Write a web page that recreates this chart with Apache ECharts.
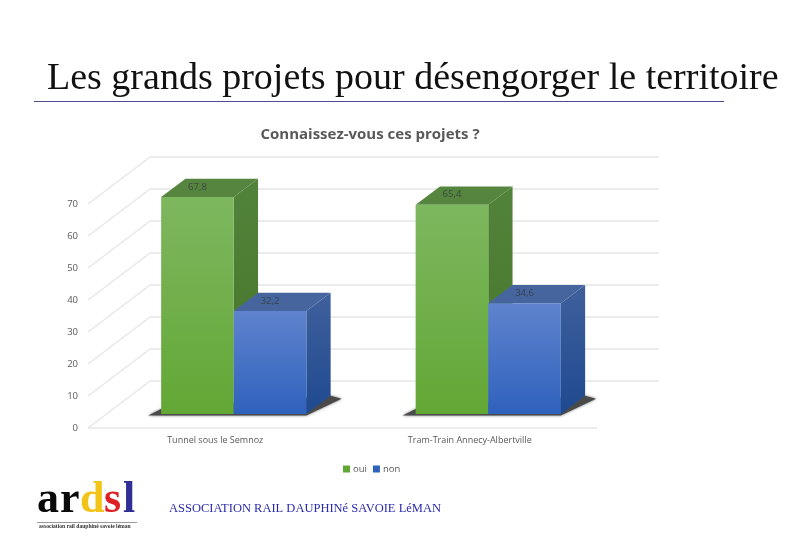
<!DOCTYPE html>
<html><head><meta charset="utf-8">
<style>html,body{margin:0;padding:0;background:#fff}#c{width:800px;height:560px}</style>
<script src="https://cdn.jsdelivr.net/npm/echarts@6/dist/echarts.min.js"></script>
</head><body><div id="c"></div>
<script>
const categories = ['Tunnel sous le Semnoz', 'Tram-Train Annecy-Albertville'];
const oui = [67.8, 65.4];
const non = [32.2, 34.6];
const gridTicks = [0, 10, 20, 30, 40, 50, 60, 70];
const mainTitle = 'Les grands projets pour désengorger le territoire';
const chartTitle = 'Connaissez-vous ces projets ?';
const footerText = 'ASSOCIATION RAIL DAUPHINé SAVOIE LéMAN';
const logoTag = 'association rail dauphiné savoie léman';

const WALL = {dx: 62, dy: -47};
const FRONT = {dx: 18.5, dy: -14};
const DEPTH = {dx: 24.3, dy: -18.3};
const BAR_W = 72.6;
const grad = (a, b) => new echarts.graphic.LinearGradient(0, 0, 0, 1, [{offset: 0, color: a}, {offset: 1, color: b}]);
const poly = (points, fill, extra) => ({type: 'polygon', shape: {points}, style: Object.assign({fill}, extra || {})});

const COLORS = {
  oui: {front: ['#7db75f', '#63a735'], side: ['#52833a', '#46752a'], top: '#568540'},
  non: {front: ['#5f83cd', '#2f62bd'], side: ['#40609c', '#1f4a90'], top: '#46659f'}
};

function barSeries(name, values, sign) {
  return {
    type: 'custom', name, z: 5, coordinateSystem: 'cartesian2d',
    data: values.map((v, i) => [i, v]),
    itemStyle: {color: COLORS[name].front[1]},
    renderItem(params, api) {
      const i = api.value(0), v = api.value(1);
      const top = api.coord([i, v]), base = api.coord([i, 0]);
      const c = top[0] + FRONT.dx;
      const xL = sign < 0 ? c - BAR_W : c, xR = sign < 0 ? c : c + BAR_W;
      const yT = top[1] + FRONT.dy, yB = base[1] + FRONT.dy;
      const k = COLORS[name];
      const d = DEPTH;
      return {type: 'group', children: [
        poly([[xR, yT], [xR + d.dx, yT + d.dy], [xR + d.dx, yB + d.dy], [xR, yB]], grad(k.side[0], k.side[1])),
        poly([[xL, yT], [xR, yT], [xR + d.dx, yT + d.dy], [xL + d.dx, yT + d.dy]], k.top),
        {type: 'rect', shape: {x: xL, y: yT, width: xR - xL, height: yB - yT}, style: {fill: grad(k.front[0], k.front[1])}},
        {type: 'text', style: {text: String(v).replace('.', ','), x: (xL + xR) / 2, y: yT - 10, align: 'center', verticalAlign: 'middle',
          font: '9.5px "Open Sans"', fill: 'rgba(50,60,60,0.85)'}}
      ]};
    }
  };
}

const wallSeries = {
  type: 'custom', name: 'walls', silent: true, z: 1,
  data: gridTicks.map(t => [0, t]),
  renderItem(params, api) {
    const t = api.value(1);
    const p = api.coord([0, t]);
    const band = api.size([1, 0])[0];
    const x0 = p[0] - band / 2, x1 = x0 + 2 * band, y = p[1];
    const ln = (a, b, c, d) => ({type: 'line', shape: {x1: a, y1: b, x2: c, y2: d}, style: {stroke: '#e6e6e6', lineWidth: 1.3}});
    const kids = [
      ln(x0 + WALL.dx, y + WALL.dy, x1 + WALL.dx, y + WALL.dy),
      ln(x0, y, x0 + WALL.dx, y + WALL.dy)
    ];
    if (t === 0) kids.push(ln(x0, y, x1, y));
    return {type: 'group', children: kids};
  }
};

const shadowSeries = {
  type: 'custom', name: 'shadow', silent: true, z: 3,
  data: categories.map((c, i) => [i, 0]),
  renderItem(params, api) {
    const p = api.coord([api.value(0), 0]);
    const c = p[0] + FRONT.dx, y = p[1] + FRONT.dy;
    const xL = c - BAR_W, xR = c + BAR_W;
    return poly([[xL - 13, y + 1.5], [xR, y + 1.5], [xR + DEPTH.dx + 11, y + DEPTH.dy + 3], [xR + DEPTH.dx, y + DEPTH.dy], [xL, y - 5]],
      '#4a4a4a', {shadowBlur: 3, shadowColor: 'rgba(60,60,60,0.7)'});
  }
};

const logoLetters = [
  {t: 'a', x: 37, c: '#0a0a0a'}, {t: 'r', x: 60, c: '#0a0a0a'},
  {t: 'd', x: 80, c: '#f2c417'}, {t: 's', x: 104, c: '#dd1f26'}, {t: 'l', x: 123, c: '#2f2f95'}
];

const chart = echarts.init(document.getElementById('c'), null, {renderer: 'canvas'});
chart.setOption({
  animation: false,
  backgroundColor: '#ffffff',
  title: [
    {text: mainTitle, left: 42, top: 55, textStyle: {fontFamily: '"Liberation Serif"', fontWeight: 'normal', fontSize: 38, color: '#111111'}},
    {text: chartTitle, left: 365, top: 122, textAlign: 'center', textStyle: {fontFamily: '"Open Sans"', fontWeight: 'bold', fontSize: 15, color: '#595959'}}
  ],
  legend: {
    data: ['oui', 'non'], left: 338, top: 459, itemWidth: 7, itemHeight: 7, itemGap: 6, icon: 'rect',
    textStyle: {fontFamily: '"Open Sans"', fontSize: 9.5, color: '#595959', padding: [0, 0, 0, -2]}
  },
  grid: {left: 88, right: 203, top: 204, bottom: 132},
  xAxis: {
    type: 'category', data: categories,
    axisLine: {show: false}, axisTick: {show: false}, splitLine: {show: false},
    axisLabel: {margin: 8, fontFamily: '"Open Sans"', fontSize: 9, color: '#595959'}
  },
  yAxis: {
    type: 'value', min: 0, max: 70, interval: 10,
    axisLine: {show: false}, axisTick: {show: false}, splitLine: {show: false},
    axisLabel: {margin: 10, fontFamily: '"Open Sans"', fontSize: 9.5, color: '#595959'}
  },
  series: [wallSeries, shadowSeries, barSeries('oui', oui, -1), barSeries('non', non, 1)],
  graphic: {elements: [
    {type: 'line', shape: {x1: 34, y1: 101.5, x2: 724, y2: 101.5}, style: {stroke: '#4c4c94', lineWidth: 1}},
    ...logoLetters.map(l => ({type: 'text', x: l.x, y: 523, style: {text: l.t, fill: l.c, font: 'bold 44px "Liberation Serif"', textVerticalAlign: 'bottom'}})),
    {type: 'line', shape: {x1: 37, y1: 522.5, x2: 137, y2: 522.5}, style: {stroke: '#999999', lineWidth: 1}},
    {type: 'text', x: 39, y: 523.5, style: {text: logoTag, fill: '#333333', font: 'bold 5.6px "Liberation Serif"'}},
    {type: 'text', x: 169, y: 502, style: {text: footerText, fill: '#2a2ab0', font: '12.5px "Liberation Serif"'}}
  ]}
});
</script></body></html>
